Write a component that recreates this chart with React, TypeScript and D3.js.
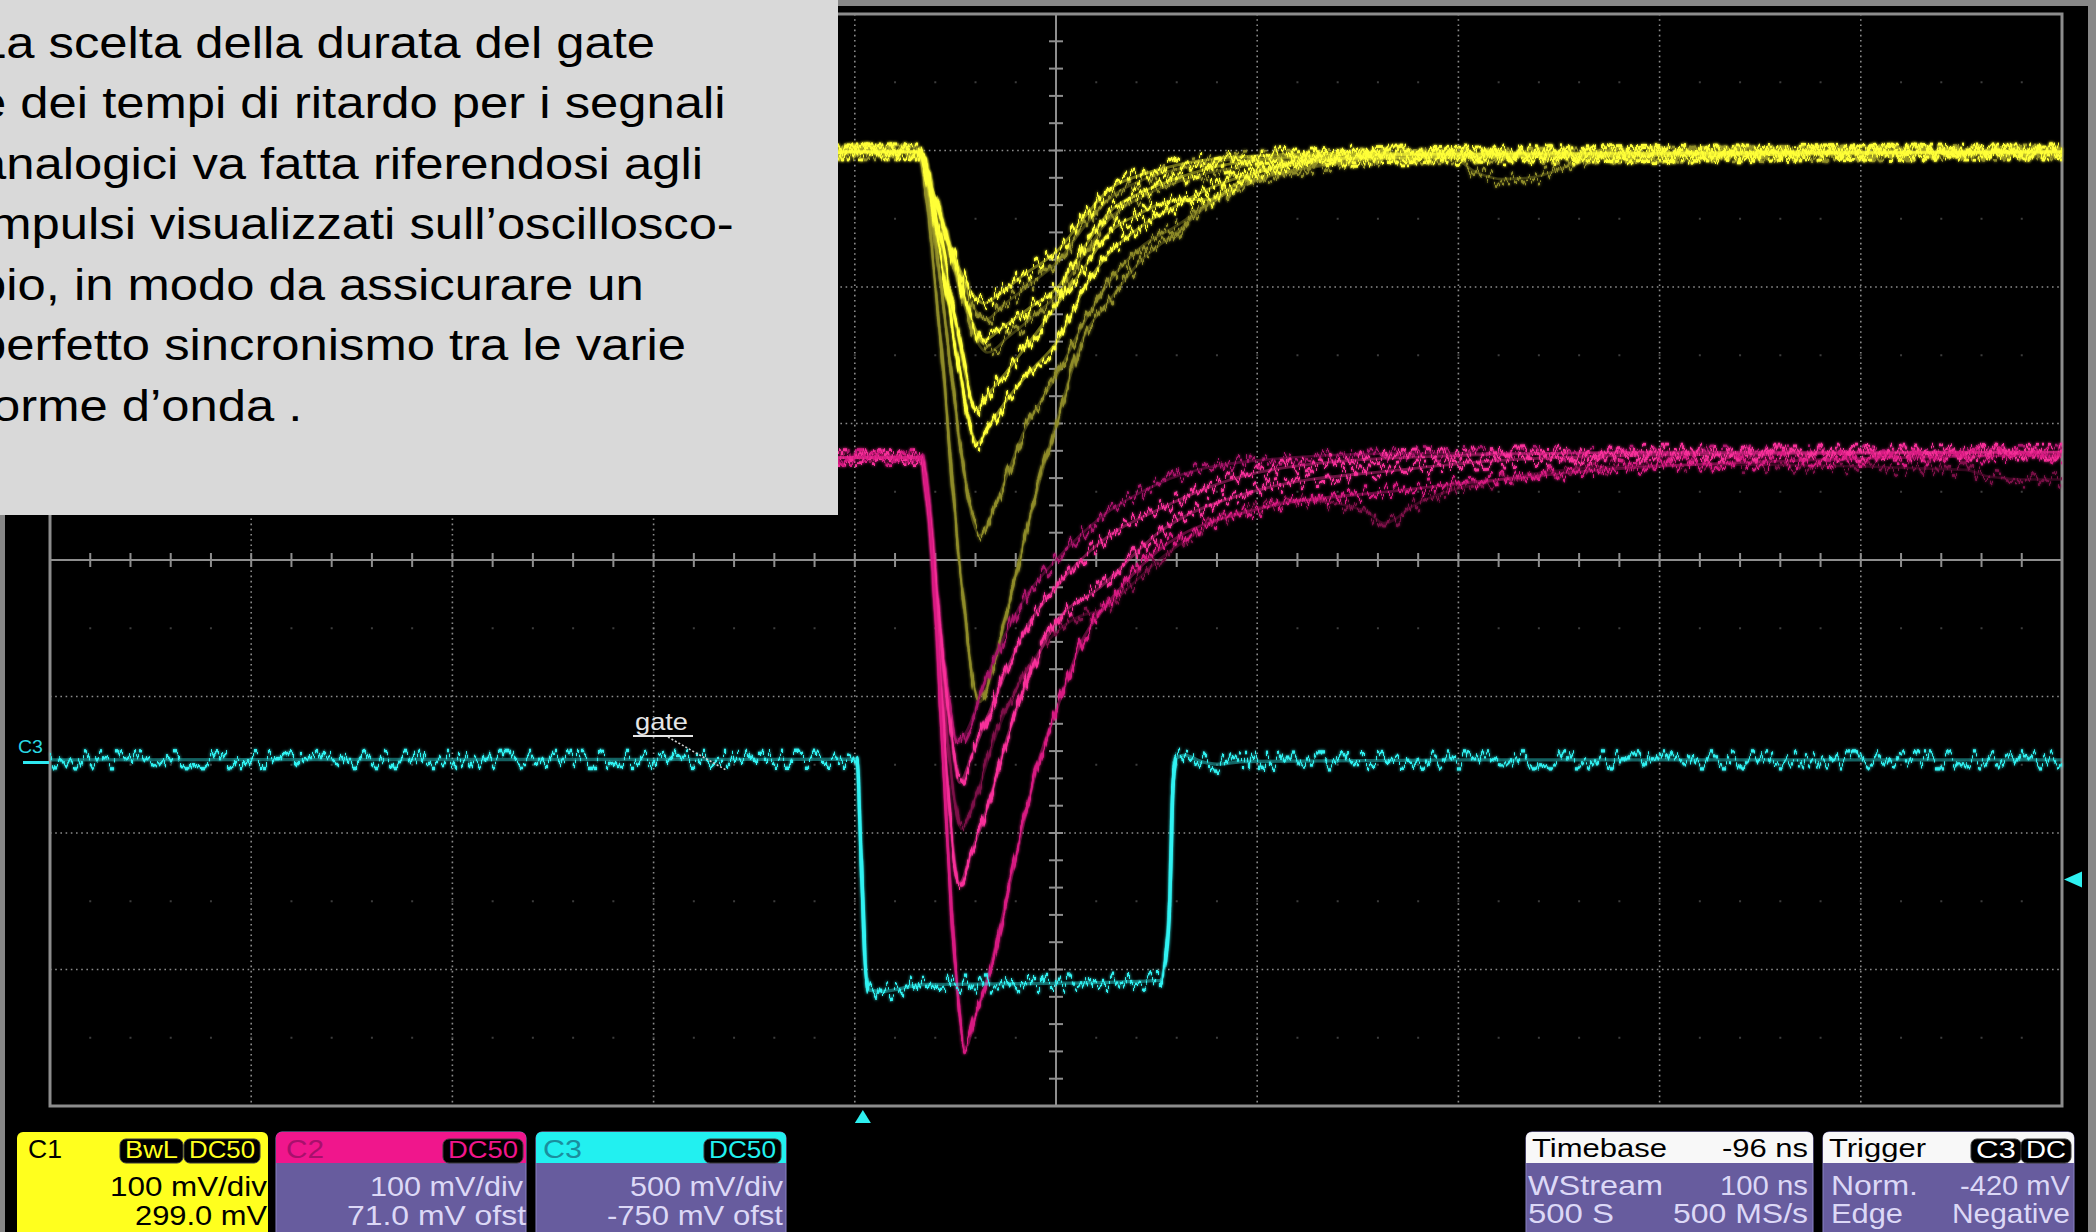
import React from "react";
import * as d3 from "d3";

type Pt = [number, number];

const W = 2096;
const H = 1232;

// ---- scope settings ----
const TIME_DOMAIN: [number, number] = [-404, 596]; // ns, 100 ns/div, trigger 96 ns left of center
const C1_SCALE = { vdiv: 100, ofst: 299 }; // mV
const C2_SCALE = { vdiv: 100, ofst: 71 };
const C3_SCALE = { vdiv: 500, ofst: -750 };

// ---- C1 (yellow) traces: [time ns, mV] ----
const C1_DIM: Pt[][] = [
  [[-404, 0], [27, 0], [36, -35], [47, -85], [57, -118], [61, -123], [70, -112], [85, -95], [97, -80], [110, -55], [122, -35], [140, -20], [165, -10], [200, -4], [596, 0]],
  [[-404, 0], [27, 0], [38, -45], [50, -110], [58, -142], [62, -147], [72, -136], [85, -120], [97, -104], [110, -75], [122, -50], [140, -32], [165, -18], [200, -8], [240, -3], [596, 0]],
  [[-404, 0], [27, 0], [38, -90], [48, -210], [55, -272], [58, -281], [66, -258], [80, -205], [97, -162], [110, -125], [122, -96], [138, -70], [155, -55], [175, -35], [196, -20], [230, -10], [270, -4], [291, -3], [305, -15], [318, -20], [335, -18], [355, -8], [380, -2], [596, 0]],
  [[-404, 0], [27, 0], [38, -130], [48, -300], [55, -390], [58, -403], [66, -370], [78, -297], [97, -194], [110, -135], [122, -110], [138, -80], [155, -60], [175, -35], [196, -21], [230, -9], [280, -3], [596, 0]],
];
const C1_BRIGHT: Pt[][] = [
  [[-404, 0], [27, 0], [35, -30], [45, -75], [55, -105], [60, -111], [68, -104], [80, -90], [97, -72], [110, -48], [122, -28], [138, -17], [155, -10], [175, -5], [196, -3], [240, -1], [596, 0]],
  [[-404, 0], [27, 0], [37, -40], [48, -95], [56, -130], [60, -138], [70, -128], [85, -112], [97, -99], [110, -70], [122, -45], [138, -30], [155, -20], [175, -11], [196, -6], [250, -2], [596, 0]],
  [[-404, 0], [27, 0], [38, -60], [48, -140], [54, -182], [56, -189], [62, -178], [72, -160], [85, -135], [97, -111], [110, -85], [122, -60], [138, -45], [150, -37], [160, -35], [172, -35], [185, -24], [200, -13], [230, -5], [596, 0]],
  [[-404, 0], [27, 0], [38, -70], [48, -160], [54, -205], [57, -213], [63, -200], [75, -175], [85, -158], [97, -138], [110, -100], [122, -75], [138, -55], [155, -40], [175, -25], [196, -15], [230, -6], [270, -2], [596, 0]],
];

// ---- C2 (magenta) traces: [time ns, mV] ----
const C2_DIM: Pt[][] = [
  [[-404, 4], [29, 4], [33, -35], [39, -150], [45, -240], [49, -268], [56, -245], [66, -200], [80, -155], [96, -124], [108, -112], [118, -108], [133, -90], [147, -71], [162, -55], [176, -42], [196, -33], [218, -27], [250, -35], [259, -44], [275, -30], [317, -12], [367, -3], [420, -1], [548, -5], [560, -10], [580, -12], [596, -12]],
  [[-404, 4], [29, 4], [32, -20], [37, -100], [43, -175], [47, -205], [53, -192], [61, -159], [70, -128], [80, -100], [96, -71], [118, -40], [147, -15], [196, 2], [267, 7], [596, 8]],
];
const C2_BRIGHT: Pt[][] = [
  [[-404, 4], [29, 4], [32, -25], [38, -120], [44, -200], [48, -234], [54, -215], [63, -182], [72, -150], [80, -124], [96, -91], [118, -58], [147, -34], [196, -7], [267, 4], [400, 8], [596, 8]],
  [[-404, 4], [29, 4], [33, -40], [39, -170], [44, -270], [48, -308], [54, -285], [63, -247], [72, -200], [80, -166], [96, -117], [118, -91], [147, -51], [196, -20], [267, -5], [317, 2], [400, 6], [596, 8]],
  [[-404, 4], [29, 4], [34, -60], [40, -220], [46, -370], [51, -428], [56, -405], [62, -377], [75, -296], [88, -215], [96, -182], [110, -127], [118, -110], [147, -64], [196, -34], [267, -20], [317, -12], [367, -5], [466, 2], [596, 6]],
];

// ---- C3 (cyan) gate: [time ns, mV] ----
const C3_GATE: Pt[] = [
  [-404, 18], [-3, 20], [-1, -300], [1, -700], [3, -825], [10, -830], [30, -805], [100, -800], [148, -790], [152.5, -500], [154, -100], [156, 25], [160, 35], [168, 12], [176, 2], [190, 12], [300, 18], [596, 18],
];
const TRIGGER_LEVEL = -420; // mV on C3

// ---- texts ----
const NOTE_LINES = [
  "La scelta della durata del gate",
  "e dei tempi di ritardo per i segnali",
  "analogici va fatta riferendosi agli",
  "impulsi visualizzati sull’oscillosco-",
  "pio, in modo da assicurare un",
  "perfetto sincronismo tra le varie",
  "forme d’onda .",
];
const C1_TEXT = ["C1", "BwL", "DC50", "100 mV/div", "299.0 mV"];
const C2_TEXT = ["C2", "DC50", "100 mV/div", "71.0 mV ofst"];
const C3_TEXT = ["C3", "DC50", "500 mV/div", "-750 mV ofst"];
const TIMEBASE_TEXT = ["Timebase", "-96 ns", "WStream", "100 ns", "500 S", "500 MS/s"];
const TRIGGER_TEXT = ["Trigger", "C3", "DC", "Norm.", "-420 mV", "Edge", "Negative"];
const GATE_LABEL = "gate";
const CH_MARK = "C3";

// ---- geometry ----
const L = 50, R = 2062, T = 14, B = 1106;
const gx = d3.scaleLinear().domain([0, 10]).range([L, R]);
const gy = d3.scaleLinear().domain([0, 8]).range([T, B]);
const xT = d3.scaleLinear().domain(TIME_DOMAIN).range([L, R]);
const yDiv = d3.scaleLinear().domain([4, -4]).range([T, B]);
const yOf = (s: { vdiv: number; ofst: number }) => (v: number) => yDiv((v + s.ofst) / s.vdiv);

const FONT = "'Liberation Sans', Arial, Helvetica, sans-serif";
const LAV = "#dcd8f6";
const PURPLE = "#675c9e";

function Txt(p: { x: number; y: number; len: number; size: number; fill: string; children: string }) {
  return (
    <text x={p.x} y={p.y} fontSize={p.size} fill={p.fill} fontFamily={FONT} textLength={p.len} lengthAdjust="spacingAndGlyphs">
      {p.children}
    </text>
  );
}

function Tag(p: { x: number; w: number; color: string; label: string }) {
  return (
    <g>
      <rect x={p.x} y={1139} width={p.w} height={24} rx={6} fill="#000" stroke="#3a3a3a" strokeWidth={1} />
      <Txt x={p.x + 5} y={1158} len={p.w - 10} size={24} fill={p.color}>{p.label}</Txt>
    </g>
  );
}

export default function App() {
  const mkLine = (s: { vdiv: number; ofst: number }) =>
    d3.line<Pt>().x((d) => xT(d[0])).y((d) => yOf(s)(d[1])).curve(d3.curveMonotoneX);
  const l1 = mkLine(C1_SCALE);
  const l2 = mkLine(C2_SCALE);
  const l3 = mkLine(C3_SCALE);

  const traces: { d: string; color: string; w: number; amp: number }[] = [];
  C1_DIM.forEach((t) => traces.push({ d: l1(t) || "", color: "#8e8b28", w: 2.6, amp: 15 }));
  C1_BRIGHT.forEach((t) => traces.push({ d: l1(t) || "", color: "#ffff38", w: 2.8, amp: 16 }));
  traces.push({ d: l2(C2_DIM[0]) || "", color: "#7c1048", w: 2.6, amp: 15 });
  traces.push({ d: l2(C2_DIM[1]) || "", color: "#a8146a", w: 2.6, amp: 15 });
  C2_BRIGHT.forEach((t, i) => traces.push({ d: l2(t) || "", color: i === 2 ? "#d81a82" : "#f8309a", w: 2.8, amp: 16 }));
  traces.push({ d: l3(C3_GATE) || "", color: "#30f2f2", w: 3.4, amp: 18 });

  const vGrid = d3.range(1, 10).filter((i) => i !== 5);
  const hGrid = d3.range(1, 8).filter((i) => i !== 4);
  const hTicks = d3.range(1, 50);
  const vTicks = d3.range(1, 40);
  const halfRows = d3.range(0, 8).map((k) => k + 0.5);
  const dotCols = d3.range(1, 50);

  const trigX = xT(0);
  const trigY = yOf(C3_SCALE)(TRIGGER_LEVEL);

  return (
    <svg width={W} height={H} style={{ position: "absolute", left: 0, top: 0, display: "block" }}>
      <defs>
        {traces.map((t, i) => (
          <filter key={i} id={`nz${i}`} filterUnits="userSpaceOnUse" x={0} y={0} width={W} height={H} colorInterpolationFilters="sRGB">
            <feTurbulence type="fractalNoise" baseFrequency="0.19 0.01" numOctaves={3} seed={i * 7 + 3} result="t" />
            <feColorMatrix in="t" type="matrix" values="0 0 0 0 0.5  0 2.4 0 0 -0.7  0 0 1 0 0  0 0 0 0 1" result="m" />
            <feDisplacementMap in="SourceGraphic" in2="m" scale={t.amp} xChannelSelector="R" yChannelSelector="G" result="d" />
            <feComponentTransfer in="SourceGraphic" result="core">
              <feFuncA type="linear" slope={0.4} />
            </feComponentTransfer>
            <feGaussianBlur in="d" stdDeviation={1.6} result="b" />
            <feMerge>
              <feMergeNode in="b" />
              <feMergeNode in="core" />
              <feMergeNode in="d" />
            </feMerge>
          </filter>
        ))}
      </defs>

      {/* frame */}
      <rect x={0} y={0} width={W} height={H} fill="#878787" />
      <rect x={5} y={6} width={2083} height={H - 6} fill="#000" />

      {/* faint half-division dots */}
      {halfRows.map((r) =>
        dotCols.map((c) => (
          <rect key={`${r}-${c}`} x={gx(c / 5) - 1} y={gy(r) - 1} width={2} height={2} fill="#3c3c3c" />
        ))
      )}

      {/* dotted grid */}
      {vGrid.map((i) => (
        <line key={`v${i}`} x1={gx(i)} x2={gx(i)} y1={T} y2={B} stroke="#8a8a8a" strokeWidth={1.6} strokeDasharray="1.6 3.6" />
      ))}
      {hGrid.map((j) => (
        <line key={`h${j}`} x1={L} x2={R} y1={gy(j)} y2={gy(j)} stroke="#8a8a8a" strokeWidth={1.6} strokeDasharray="1.6 3.6" />
      ))}
      {/* center axes */}
      <line x1={gx(5)} x2={gx(5)} y1={T} y2={B} stroke="#8e8e8e" strokeWidth={2} />
      <line x1={L} x2={R} y1={gy(4)} y2={gy(4)} stroke="#8e8e8e" strokeWidth={2} />
      {hTicks.map((k) => (
        <line key={`ht${k}`} x1={gx(k / 5)} x2={gx(k / 5)} y1={gy(4) - 7} y2={gy(4) + 7} stroke="#8e8e8e" strokeWidth={2} />
      ))}
      {vTicks.map((k) => (
        <line key={`vt${k}`} x1={gx(5) - 7} x2={gx(5) + 7} y1={gy(k / 5)} y2={gy(k / 5)} stroke="#8e8e8e" strokeWidth={2} />
      ))}
      <rect x={L} y={T} width={R - L} height={B - T} fill="none" stroke="#8c8c8c" strokeWidth={3} />

      {/* traces */}
      <g>
        {traces.map((t, i) => (
          <path key={i} d={t.d} fill="none" stroke={t.color} strokeWidth={t.w} strokeLinejoin="round" filter={`url(#nz${i})`} />
        ))}
      </g>

      {/* annotations */}
      <text x={18} y={753} fontSize={18} fill="#2ad8e4" fontFamily={FONT} textLength={25} lengthAdjust="spacingAndGlyphs">{CH_MARK}</text>
      <rect x={23} y={761} width={26} height={3} fill="#2ee8f0" />
      <text x={635} y={730} fontSize={24} fill="#e6e6e6" fontFamily={FONT} textLength={53} lengthAdjust="spacingAndGlyphs">{GATE_LABEL}</text>
      <line x1={633} x2={693} y1={736} y2={736} stroke="#e6e6e6" strokeWidth={2} />
      <line x1={668} x2={726} y1={737} y2={770} stroke="#d0d0d0" strokeWidth={1.6} strokeDasharray="2 2" />
      <path d={`M${trigX},${1110} L${trigX - 8},${1123} L${trigX + 8},${1123} Z`} fill="#2ef0f0" />
      <path d={`M${2064},${trigY} L${2082},${trigY - 8} L${2082},${trigY + 8} Z`} fill="#2ef0f0" />

      {/* note box */}
      <rect x={0} y={0} width={838} height={515} fill="#d9d9d9" />
      <g transform="translate(-22,0) scale(1.128,1)">
        {NOTE_LINES.map((s, i) => (
          <text key={i} x={0} y={58 + i * 60.5} fontSize={45} fill="#000" fontFamily={FONT}>{s}</text>
        ))}
      </g>

      {/* C1 box */}
      <rect x={17} y={1132} width={251} height={110} rx={6} fill="#ffff1e" />
      <Txt x={28} y={1158} len={34} size={26} fill="#000">{C1_TEXT[0]}</Txt>
      <Tag x={120} w={63} color="#ffff1e" label={C1_TEXT[1]} />
      <Tag x={184} w={76} color="#ffff1e" label={C1_TEXT[2]} />
      <Txt x={110} y={1196} len={157} size={28} fill="#000">{C1_TEXT[3]}</Txt>
      <Txt x={135} y={1225} len={132} size={28} fill="#000">{C1_TEXT[4]}</Txt>

      {/* C2 box */}
      <rect x={276} y={1132} width={250} height={110} rx={6} fill={PURPLE} stroke="#8a82c4" strokeWidth={1} />
      <path d="M276,1163 L276,1138 Q276,1132 282,1132 L520,1132 Q526,1132 526,1138 L526,1163 Z" fill="#f0168c" />
      <Txt x={286} y={1158} len={38} size={26} fill="#a8106c">{C2_TEXT[0]}</Txt>
      <Tag x={443} w={80} color="#f0168c" label={C2_TEXT[1]} />
      <Txt x={370} y={1196} len={153} size={28} fill={LAV}>{C2_TEXT[2]}</Txt>
      <Txt x={347} y={1225} len={179} size={28} fill={LAV}>{C2_TEXT[3]}</Txt>

      {/* C3 box */}
      <rect x={536} y={1132} width={250} height={110} rx={6} fill={PURPLE} stroke="#8a82c4" strokeWidth={1} />
      <path d="M536,1163 L536,1138 Q536,1132 542,1132 L780,1132 Q786,1132 786,1138 L786,1163 Z" fill="#22f0f0" />
      <Txt x={543} y={1158} len={39} size={26} fill="#1a8e9e">{C3_TEXT[0]}</Txt>
      <Tag x={704} w={77} color="#22f0f0" label={C3_TEXT[1]} />
      <Txt x={630} y={1196} len={153} size={28} fill={LAV}>{C3_TEXT[2]}</Txt>
      <Txt x={607} y={1225} len={176} size={28} fill={LAV}>{C3_TEXT[3]}</Txt>

      {/* Timebase box */}
      <rect x={1526} y={1132} width={287} height={110} rx={6} fill={PURPLE} stroke="#8a82c4" strokeWidth={1} />
      <path d="M1526,1163 L1526,1138 Q1526,1132 1532,1132 L1807,1132 Q1813,1132 1813,1138 L1813,1163 Z" fill="#f8f8f8" />
      <Txt x={1532} y={1157} len={135} size={26} fill="#000">{TIMEBASE_TEXT[0]}</Txt>
      <Txt x={1722} y={1157} len={86} size={26} fill="#000">{TIMEBASE_TEXT[1]}</Txt>
      <Txt x={1528} y={1195} len={135} size={28} fill={LAV}>{TIMEBASE_TEXT[2]}</Txt>
      <Txt x={1720} y={1195} len={88} size={28} fill={LAV}>{TIMEBASE_TEXT[3]}</Txt>
      <Txt x={1528} y={1223} len={86} size={28} fill={LAV}>{TIMEBASE_TEXT[4]}</Txt>
      <Txt x={1673} y={1223} len={135} size={28} fill={LAV}>{TIMEBASE_TEXT[5]}</Txt>

      {/* Trigger box */}
      <rect x={1823} y={1132} width={251} height={110} rx={6} fill={PURPLE} stroke="#8a82c4" strokeWidth={1} />
      <path d="M1823,1163 L1823,1138 Q1823,1132 1829,1132 L2068,1132 Q2074,1132 2074,1138 L2074,1163 Z" fill="#f8f8f8" />
      <Txt x={1829} y={1157} len={97} size={26} fill="#000">{TRIGGER_TEXT[0]}</Txt>
      <Tag x={1971} w={50} color="#ffffff" label={TRIGGER_TEXT[1]} />
      <Tag x={2021} w={50} color="#ffffff" label={TRIGGER_TEXT[2]} />
      <Txt x={1831} y={1195} len={87} size={28} fill={LAV}>{TRIGGER_TEXT[3]}</Txt>
      <Txt x={1960} y={1195} len={110} size={28} fill={LAV}>{TRIGGER_TEXT[4]}</Txt>
      <Txt x={1831} y={1223} len={72} size={28} fill={LAV}>{TRIGGER_TEXT[5]}</Txt>
      <Txt x={1952} y={1223} len={118} size={28} fill={LAV}>{TRIGGER_TEXT[6]}</Txt>
    </svg>
  );
}
